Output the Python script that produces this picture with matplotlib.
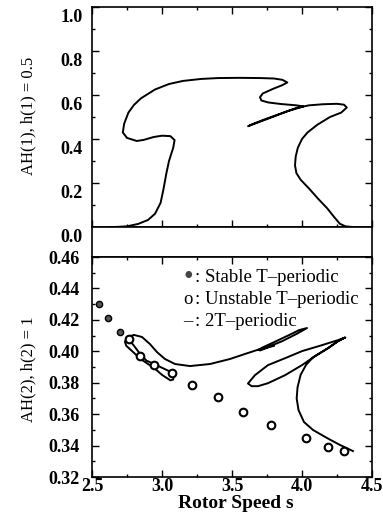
import numpy as np
import matplotlib
matplotlib.use("Agg")
import matplotlib.pyplot as plt
from matplotlib.ticker import MultipleLocator, FormatStrFormatter
from matplotlib.transforms import ScaledTranslation

# ---------------- data ----------------
# Top panel: AH(1) curve, h(1)=0.5
top_s = [2.62, 2.66, 2.75, 2.83, 2.90, 2.95, 2.99, 3.01, 3.03, 3.05, 3.08, 3.09, 3.06,
         3.00, 2.94, 2.87, 2.82, 2.75, 2.72, 2.73, 2.76, 2.80, 2.85, 2.95, 3.05, 3.15,
         3.28, 3.40, 3.55, 3.70, 3.80, 3.86, 3.895, 3.86, 3.79, 3.72, 3.70, 3.71, 3.76,
         3.85, 3.96, 4.01, 3.90, 3.76, 3.65, 3.615, 3.63, 3.72, 3.85, 3.96, 4.05, 4.15,
         4.25, 4.30, 4.32, 4.28, 4.20, 4.11, 4.04, 4.00, 3.97, 3.955, 3.95, 3.96, 3.99,
         4.05, 4.12, 4.18, 4.23, 4.27, 4.31, 4.36]
top_a = [0.0, 0.0, 0.003, 0.014, 0.032, 0.06, 0.11, 0.17, 0.24, 0.30, 0.36, 0.395, 0.413,
         0.415, 0.409, 0.396, 0.391, 0.405, 0.43, 0.47, 0.52, 0.555, 0.585, 0.625, 0.65, 0.664,
         0.673, 0.677, 0.678, 0.677, 0.675, 0.669, 0.657, 0.645, 0.627, 0.607, 0.59, 0.575,
         0.566, 0.559, 0.553, 0.548, 0.527, 0.493, 0.467, 0.458, 0.463, 0.486, 0.516, 0.541,
         0.553, 0.558, 0.56, 0.556, 0.543, 0.52, 0.50, 0.465, 0.43, 0.40, 0.36, 0.32, 0.28,
         0.245, 0.215, 0.175, 0.125, 0.085, 0.045, 0.015, 0.003, 0.0]

# Bottom panel: T-periodic solutions
stable_s = [2.552, 2.617, 2.70]
stable_a = [0.430, 0.4211, 0.412]
unstable_s = [2.766, 2.842, 2.942, 3.068, 3.211, 3.401, 3.580, 3.782, 4.031, 4.186, 4.300]
unstable_a = [0.4077, 0.3969, 0.3912, 0.3859, 0.3788, 0.3706, 0.3612, 0.353, 0.3446, 0.3391, 0.3364]

# Bottom panel: 2T-periodic branch A (twisted loop, outer arc, narrow loop)
twoT_a_s = [2.75, 2.80, 2.842, 2.89, 2.942, 3.00, 3.06, 3.085, 3.08, 3.06, 3.00, 2.942,
            2.89, 2.842, 2.80, 2.745, 2.735, 2.75, 2.80, 2.857, 2.914, 2.964, 3.021, 3.093,
            3.20, 3.343, 3.486, 3.593, 3.679, 3.75, 3.86, 3.96, 4.036, 3.98, 3.90, 3.80,
            3.72, 3.69, 3.70, 3.76, 3.80]
twoT_a_a = [0.409, 0.4035, 0.3985, 0.394, 0.392, 0.3895, 0.387, 0.3855, 0.382, 0.3815,
            0.385, 0.3895, 0.3925, 0.3955, 0.399, 0.4035, 0.406, 0.409, 0.4104, 0.4091,
            0.4046, 0.3995, 0.3951, 0.3919, 0.3906, 0.3919, 0.3951, 0.3983, 0.4008, 0.4025,
            0.4065, 0.411, 0.4148, 0.4135, 0.410, 0.4058, 0.4025, 0.401, 0.4005, 0.4025, 0.4035]

# Bottom panel: 2T-periodic branch B
twoT_b_s = [4.364, 4.271, 4.179, 4.079, 4.014, 3.975, 3.962, 3.968, 3.99, 4.03, 4.08, 4.093,
            4.186, 4.257, 4.31, 4.257, 4.143, 4.0, 3.879, 3.757, 3.664, 3.614, 3.64, 3.686,
            3.757, 3.879, 4.0, 4.093, 4.186, 4.257, 4.30]
twoT_b_a = [0.3365, 0.3404, 0.3448, 0.3499, 0.355, 0.3626, 0.37, 0.377, 0.385, 0.3915, 0.3962,
            0.3969, 0.402, 0.4064, 0.4088, 0.4071, 0.4039, 0.4001, 0.3956, 0.3912, 0.3848,
            0.3795, 0.3778, 0.3778, 0.3797, 0.3848, 0.3912, 0.3969, 0.402, 0.4064, 0.4085]

legend_symbols = ["\u2022", "o", "\u2013"]
legend_labels = [": Stable T\u2013periodic", ": Unstable T\u2013periodic", ": 2T\u2013periodic"]
xlabel = "Rotor Speed s"
ylabel_top = "AH(1), h(1) = 0.5"
ylabel_bot = "AH(2), h(2) = 1"

# ---------------- figure ----------------
W, H = 383, 524
fig = plt.figure(figsize=(W / 100, H / 100), dpi=100)

def rect(x0, y0, x1, y1):
    return [x0 / W, 1 - y1 / H, (x1 - x0) / W, (y1 - y0) / H]

ax1 = fig.add_axes(rect(92, 7, 372, 227))
axg = fig.add_axes(rect(92, 227, 372, 257))
ax2 = fig.add_axes(rect(92, 257, 372, 477))

serif = ["Liberation Serif", "DejaVu Serif"]
tick_font = dict(family=serif, weight="bold", size=13)

for ax in (ax1, ax2):
    ax.set_xlim(2.5, 4.5)
    ax.xaxis.set_major_locator(MultipleLocator(0.5))
    ax.xaxis.set_minor_locator(MultipleLocator(0.25))
    ax.tick_params(which="both", direction="in", top=True, right=True, width=1.0)
    ax.tick_params(which="major", length=5)
    ax.tick_params(which="minor", length=2.5)
    for sp in ax.spines.values():
        sp.set_linewidth(1.2)

axg.set_xticks([]); axg.set_yticks([])
for sp in axg.spines.values():
    sp.set_linewidth(1.2)

# top panel
ax1.plot(top_s, top_a, color="black", lw=1.4)
ax1.set_ylim(0, 1.0)
ax1.yaxis.set_major_locator(MultipleLocator(0.2))
ax1.yaxis.set_minor_locator(MultipleLocator(0.1))
ax1.yaxis.set_major_formatter(FormatStrFormatter("%.1f"))
ax1.tick_params(axis="y", pad=7)
ax1.tick_params(axis="x", labelbottom=False)
for lab in ax1.get_yticklabels():
    lab.set_fontproperties(tick_font)
off = ScaledTranslation(0, -0.08, fig.dpi_scale_trans)
for lab in ax1.get_yticklabels():
    lab.set_transform(lab.get_transform() + off)

# bottom panel
ax2.plot(twoT_a_s, twoT_a_a, color="black", lw=1.4)
ax2.plot(twoT_b_s, twoT_b_a, color="black", lw=1.4)
ax2.plot(stable_s, stable_a, "o", ms=4.5, mfc="#555555", mec="black", mew=1.0)
ax2.plot(unstable_s, unstable_a, "o", ms=5.5, mfc="white", mec="black", mew=1.5)
ax2.set_ylim(0.32, 0.46)
ax2.yaxis.set_major_locator(MultipleLocator(0.02))
ax2.yaxis.set_minor_locator(MultipleLocator(0.01))
ax2.yaxis.set_major_formatter(FormatStrFormatter("%.2f"))
ax2.xaxis.set_major_formatter(FormatStrFormatter("%.1f"))
ax2.tick_params(axis="y", pad=9)
ax2.tick_params(axis="x", pad=1)
for lab in ax2.get_yticklabels() + ax2.get_xticklabels():
    lab.set_fontproperties(tick_font)

for i, (sym, t) in enumerate(zip(legend_symbols, legend_labels)):
    y = 0.905 - i * 0.1
    if i == 0:
        ax2.text(0.343, y, sym, transform=ax2.transAxes, family=serif, size=20,
                 color="#444444", va="center", ha="center")
    else:
        ax2.text(0.343, y, sym, transform=ax2.transAxes, family=serif, size=13.5,
                 va="center", ha="center")
    ax2.text(0.367, y, t, transform=ax2.transAxes, family=serif,
             size=13.5, va="center", ha="left")

fig.text(28 / W, 1 - 116 / H, ylabel_top, rotation=90, ha="center", va="center",
         family=serif, size=12)
fig.text(28 / W, 1 - 369 / H, ylabel_bot, rotation=90, ha="center", va="center",
         family=serif, size=12)
fig.text(236 / W, 1 - 504 / H, xlabel, ha="center", va="center", family=serif,
         size=14, weight="bold")

fig.savefig("out.png", dpi=100)
